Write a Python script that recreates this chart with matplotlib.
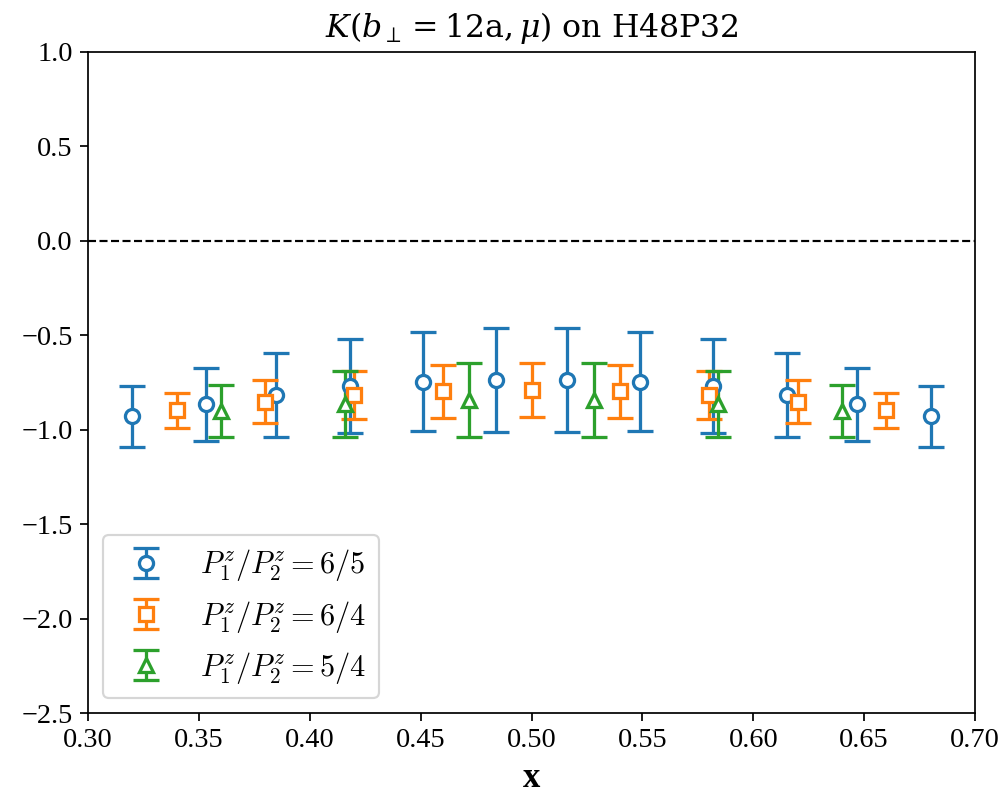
import matplotlib
matplotlib.use("Agg")
import matplotlib.pyplot as plt
from matplotlib.font_manager import FontProperties

# blue circles, P1/P2 = 6/5
x_65 = [0.320, 0.353, 0.385, 0.418, 0.451, 0.484, 0.516, 0.549, 0.582, 0.615, 0.647, 0.680]
y_65 = [-0.930, -0.866, -0.817, -0.769, -0.746, -0.737, -0.737, -0.746, -0.769, -0.817, -0.866, -0.930]
e_65 = [0.160, 0.193, 0.222, 0.250, 0.263, 0.274, 0.274, 0.263, 0.250, 0.222, 0.193, 0.160]

# orange squares, P1/P2 = 6/4
x_64 = [0.34, 0.38, 0.42, 0.46, 0.50, 0.54, 0.58, 0.62, 0.66]
y_64 = [-0.898, -0.852, -0.818, -0.797, -0.792, -0.797, -0.818, -0.852, -0.898]
e_64 = [0.093, 0.113, 0.127, 0.139, 0.143, 0.139, 0.127, 0.113, 0.093]

# green triangles, P1/P2 = 5/4
x_54 = [0.360, 0.416, 0.472, 0.528, 0.584, 0.640]
y_54 = [-0.902, -0.864, -0.843, -0.843, -0.864, -0.902]
e_54 = [0.137, 0.175, 0.194, 0.194, 0.175, 0.137]

plt.rcParams['font.family'] = ['Liberation Serif', 'DejaVu Serif']
plt.rcParams['font.size'] = 13

fig, ax = plt.subplots(figsize=(6.4, 5.0944), dpi=156.25)
fig.subplots_adjust(left=0.088, right=0.975, top=0.935, bottom=0.104)

style = dict(capsize=6, elinewidth=1.5, capthick=1.5, markersize=6.5,
             markerfacecolor='white', markeredgewidth=1.5, linestyle='none')
ax.errorbar(x_65, y_65, yerr=e_65, marker='o', color='tab:blue',
            label=r'$P_1^z/P_2^z=6/5$', **style)
ax.errorbar(x_64, y_64, yerr=e_64, marker='s', color='tab:orange',
            label=r'$P_1^z/P_2^z=6/4$', **style)
ax.errorbar(x_54, y_54, yerr=e_54, marker='^', color='tab:green',
            label=r'$P_1^z/P_2^z=5/4$', **style)

ax.axhline(0, color='black', linestyle='--', linewidth=1)

ax.set_xlim(0.30, 0.70)
ax.set_ylim(-2.5, 1.0)
ax.set_xticks([0.30, 0.35, 0.40, 0.45, 0.50, 0.55, 0.60, 0.65, 0.70])
ax.set_xticklabels(['0.30', '0.35', '0.40', '0.45', '0.50', '0.55', '0.60', '0.65', '0.70'])

ax.set_title(r'$K(b_\perp=12{\rm a},\mu)$ on H48P32', fontsize=14.5,
             family='DejaVu Serif', math_fontfamily='dejavuserif', pad=7)
ax.set_xlabel('x', fontsize=16, fontweight='bold', labelpad=4)

leg_font = FontProperties(family='DejaVu Serif', size=14, math_fontfamily='cm')
ax.legend(loc='lower left', prop=leg_font)

plt.savefig('out.png')
